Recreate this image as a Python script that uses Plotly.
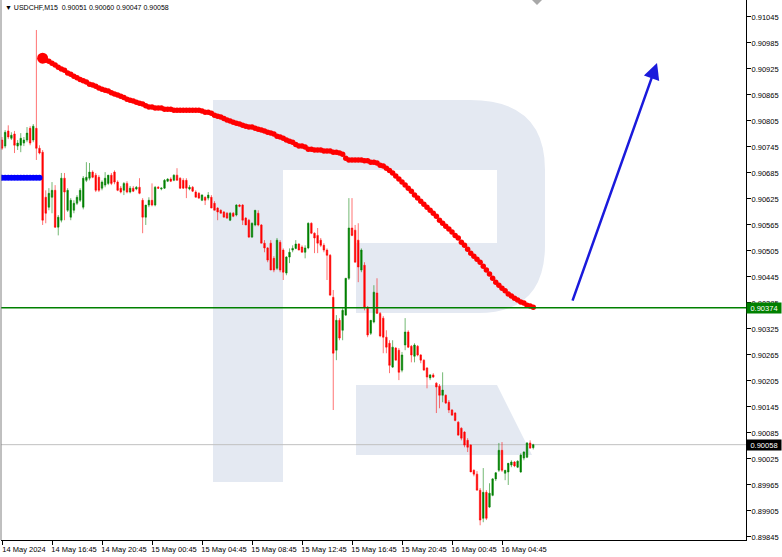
import plotly.graph_objects as go

# ---------------- data (prices in points, 1 point = 0.00001) ----------------
# USDCHF M15 bars, 14 May 12:45 .. 16 May 07:15 (bar index 0..170)
open_pts = [90761,90747,90782,90765,90775,90747,90749,90754,90761,90788,
            90761,90788,90742,90733,90629,90606,90629,90645,90560,90576,
            90673,90599,90583,90599,90615,90622,90606,90668,90673,90687,
            90680,90675,90650,90657,90661,90680,90687,90664,90650,90645,
            90661,90641,90650,90648,90652,90622,90583,90611,90622,90611,
            90652,90648,90650,90666,90671,90668,90680,90673,90668,90668,
            90648,90652,90641,90638,90622,90629,90627,90629,90615,90604,
            90599,90595,90592,90576,90592,90588,90611,90611,90581,90576,
            90537,90565,90592,90565,90523,90512,90523,90488,90465,90525,
            90507,90454,90491,90507,90511,90521,90514,90502,90512,90569,
            90546,90541,90530,90518,90507,90495,90398,90276,90345,90322,
            90357,90442,90558,90553,90530,90461,90472,90375,90315,90341,
            90408,90361,90350,90306,90292,90237,90281,90276,90230,90288,
            90318,90285,90262,90285,90265,90253,90235,90212,90219,90200,
            90193,90172,90172,90156,90138,90131,90110,90096,90087,90068,
            90057,89999,89990,89953,89888,89948,89914,89941,89979,89999,
            90045,89992,89995,90011,90018,90006,89995,90027,90029,90062,
            90051]
high_pts = [90768,90784,90795,90779,90782,90761,90777,90768,90791,90793,
            90798,91015,90749,90738,90645,90650,90664,90657,90588,90685,
            90685,90650,90627,90622,90634,90650,90678,90710,90708,90691,
            90685,90680,90668,90687,90678,90685,90691,90668,90655,90664,
            90666,90655,90655,90655,90673,90627,90611,90629,90661,90655,
            90655,90652,90671,90673,90675,90682,90696,90675,90673,90673,
            90657,90655,90645,90641,90636,90631,90641,90634,90620,90606,
            90601,90597,90595,90595,90595,90613,90613,90613,90583,90579,
            90571,90599,90599,90567,90530,90514,90530,90493,90535,90530,
            90511,90493,90511,90518,90530,90523,90518,90518,90571,90571,
            90548,90558,90535,90523,90511,90498,90415,90357,90350,90373,
            90442,90627,90627,90565,90569,90511,90479,90378,90345,90426,
            90442,90364,90355,90322,90299,90299,90283,90281,90272,90350,
            90322,90288,90292,90288,90267,90255,90237,90221,90223,90202,
            90198,90225,90174,90161,90140,90133,90112,90098,90089,90073,
            90059,90001,89997,89958,90004,89953,89969,89981,89995,90062,
            90064,89999,90011,90022,90020,90022,90038,90043,90064,90068,
            90060]
low_pts = [90738,90742,90763,90761,90731,90738,90733,90747,90756,90749,
           90756,90715,90728,90565,90569,90599,90592,90558,90541,90571,
           90576,90595,90576,90592,90611,90618,90601,90664,90668,90673,
           90641,90641,90645,90652,90657,90657,90659,90643,90638,90634,
           90638,90638,90641,90645,90636,90546,90565,90606,90608,90608,
           90648,90645,90648,90664,90664,90666,90668,90648,90648,90627,
           90645,90641,90629,90625,90620,90611,90622,90604,90599,90576,
           90592,90583,90579,90574,90583,90585,90606,90565,90565,90535,
           90535,90562,90562,90523,90502,90479,90461,90456,90461,90456,
           90438,90449,90477,90502,90509,90507,90502,90488,90509,90544,
           90500,90500,90514,90502,90438,90403,90138,90253,90299,90299,
           90355,90438,90539,90479,90433,90456,90368,90306,90311,90338,
           90361,90306,90269,90269,90223,90235,90253,90207,90225,90276,
           90281,90248,90248,90262,90246,90230,90188,90207,90212,90131,
           90142,90156,90152,90131,90126,90112,90080,90068,90052,90041,
           89995,89985,89953,89872,89879,89884,89912,89939,89974,89995,
           89995,89976,89965,90006,90006,90004,89993,90022,90027,90050,
           90047]
close_pts = [90742,90779,90768,90772,90749,90754,90765,90761,90777,90754,
             90793,90742,90731,90576,90592,90638,90645,90560,90583,90673,
             90641,90645,90622,90615,90629,90645,90673,90675,90687,90675,
             90645,90645,90664,90673,90680,90661,90664,90645,90641,90661,
             90641,90650,90643,90652,90638,90583,90611,90622,90611,90652,
             90650,90650,90668,90671,90666,90680,90668,90650,90650,90650,
             90652,90643,90629,90627,90634,90622,90634,90604,90599,90595,
             90592,90583,90581,90592,90585,90611,90608,90576,90565,90537,
             90569,90599,90565,90523,90512,90484,90461,90461,90530,90461,
             90456,90491,90502,90511,90521,90507,90502,90512,90569,90546,
             90535,90523,90518,90507,90495,90403,90269,90345,90304,90368,
             90442,90558,90541,90479,90468,90507,90375,90311,90345,90410,
             90361,90309,90306,90283,90241,90283,90253,90225,90265,90318,
             90283,90265,90288,90265,90253,90230,90214,90219,90214,90191,
             90172,90184,90154,90138,90126,90114,90080,90073,90057,90052,
             89995,89990,89953,89884,89948,89888,89946,89979,89993,90045,
             89999,89999,90015,90018,90009,90020,90034,90041,90062,90050,
             90058]

# red dotted moving average, bars 13..170
ma_start = 13
ma_pts = [90950,90945,90943,90938,90934,90929,90925,90922,90916,90913,
          90908,90905,90901,90898,90895,90890,90888,90885,90881,90878,
          90876,90874,90870,90867,90865,90862,90859,90855,90853,90851,
          90848,90846,90844,90840,90837,90837,90835,90835,90835,90832,
          90832,90832,90830,90830,90830,90830,90830,90830,90830,90830,
          90830,90828,90825,90825,90823,90818,90816,90814,90811,90807,
          90805,90802,90800,90798,90795,90793,90791,90791,90788,90786,
          90784,90782,90779,90777,90775,90770,90768,90765,90761,90758,
          90756,90751,90747,90747,90745,90740,90740,90738,90738,90738,
          90736,90736,90736,90733,90733,90731,90728,90719,90715,90715,
          90715,90715,90715,90713,90713,90710,90710,90708,90703,90701,
          90696,90691,90685,90678,90671,90664,90657,90650,90643,90634,
          90627,90620,90613,90606,90599,90592,90585,90576,90569,90562,
          90556,90549,90541,90535,90525,90518,90509,90500,90493,90486,
          90479,90470,90461,90452,90442,90433,90426,90419,90413,90406,
          90401,90396,90392,90387,90385,90380,90378,90375]

# blue dotted level on the first bars
blue_level_pts = 90674
blue_bars = 13

support_level = 0.90374   # green horizontal line
bid_level = 0.90058       # current price line

x_tick_bars = [0, 16, 32, 48, 64, 80, 96, 112, 128, 144, 160]
x_tick_labels = ["14 May 2024", "14 May 16:45", "14 May 20:45", "15 May 00:45",
                 "15 May 04:45", "15 May 08:45", "15 May 12:45", "15 May 16:45",
                 "15 May 20:45", "16 May 00:45", "16 May 04:45"]
y_tick_vals = [0.89845, 0.89905, 0.89965, 0.90025, 0.90085, 0.90145, 0.90205,
               0.90265, 0.90325, 0.90385, 0.90445, 0.90505, 0.90565, 0.90625,
               0.90685, 0.90745, 0.90805, 0.90865, 0.90925, 0.90985, 0.91045]

title_text = "\u25bc USDCHF,M15  0.90051 0.90060 0.90047 0.90058"

# forecast arrow (bar index, price)
arrow_from = (182.4, 0.90387)
arrow_to = (209.6, 0.90939)

# ---------------- build ----------------
SC = 1e-5
opens = [v * SC for v in open_pts]
highs = [v * SC for v in high_pts]
lows = [v * SC for v in low_pts]
closes = [v * SC for v in close_pts]
bars = list(range(len(open_pts)))
ma = [v * SC for v in ma_pts]
ma_x = [ma_start + k for k in range(len(ma_pts))]

FONT = "Liberation Sans"
FS = 7.5
W, H = 782, 557
ML, MR, MT, MB = 1, 36, 0, 17

fig = go.Figure()

fig.add_trace(go.Candlestick(
    x=bars, open=opens, high=highs, low=lows, close=closes,
    increasing=dict(line=dict(color="rgba(0,128,0,0.55)", width=1), fillcolor="#008000"),
    decreasing=dict(line=dict(color="rgba(255,0,0,0.55)", width=1), fillcolor="#ff0000"),
    whiskerwidth=0, showlegend=False, hoverinfo="skip"))

fig.add_trace(go.Scatter(
    x=list(range(blue_bars)), y=[blue_level_pts * SC] * blue_bars, mode="markers",
    marker=dict(color="#0000ff", size=6, line=dict(width=0)),
    showlegend=False, hoverinfo="skip"))

fig.add_trace(go.Scatter(
    x=ma_x, y=ma, mode="markers",
    marker=dict(color="#ff0000", size=5.5, line=dict(width=0)),
    showlegend=False, hoverinfo="skip"))
fig.add_trace(go.Scatter(
    x=ma_x[:1], y=ma[:1], mode="markers",
    marker=dict(color="#ff0000", size=11, line=dict(width=0)),
    showlegend=False, hoverinfo="skip"))

# pixel helpers for decorative watermark
def px(x):
    return (x - ML) / (W - ML - MR)

def py(y):
    return (H - MB - y) / (H - MT - MB)

def P(x, y):
    return f"{px(x):.5f},{py(y):.5f}"

WM = "#e4e9f2"
shapes = []
bowl = (f"M {P(213,100)} L {P(470,100)} Q {P(545,100)} {P(545,170)} "
        f"L {P(545,245)} Q {P(545,313)} {P(478,313)} L {P(356,313)} L {P(356,243)} "
        f"L {P(497,243)} L {P(497,170)} L {P(283,170)} L {P(283,482)} L {P(213,482)} Z")
shapes.append(dict(type="path", path=bowl, xref="paper", yref="paper",
                   fillcolor=WM, line=dict(width=0), layer="below"))
leg = f"M {P(356,385)} L {P(497,385)} L {P(532,455)} L {P(356,455)} Z"
shapes.append(dict(type="path", path=leg, xref="paper", yref="paper",
                   fillcolor=WM, line=dict(width=0), layer="below"))

shapes.append(dict(type="line", xref="paper", x0=0, x1=1, yref="y",
                   y0=support_level, y1=support_level,
                   line=dict(color="#008000", width=1.5)))
shapes.append(dict(type="line", xref="paper", x0=0, x1=1, yref="y",
                   y0=bid_level, y1=bid_level,
                   line=dict(color="#c0c0c0", width=1), layer="below"))
shapes.append(dict(type="line", xref="paper", x0=0, x1=0, yref="paper", y0=0, y1=1,
                   line=dict(color="#808080", width=1)))
tri = f"M {P(532,0)} L {P(542,0)} L {P(537,5)} Z"
shapes.append(dict(type="path", path=tri, xref="paper", yref="paper",
                   fillcolor="#a8a8a8", line=dict(width=0)))

annotations = [
    dict(xref="paper", yref="paper", x=px(3), y=py(2), xanchor="left", yanchor="top",
         text=title_text, showarrow=False, font=dict(family=FONT, size=7, color="#000000")),
    dict(xref="paper", yref="y", x=1, y=support_level, xanchor="left", yanchor="middle",
         text=f"{support_level:.5f}", showarrow=False, bgcolor="#008000",
         font=dict(family=FONT, size=FS, color="#ffffff"), width=34, height=10, borderpad=0,
         align="center"),
    dict(xref="paper", yref="y", x=1, y=bid_level, xanchor="left", yanchor="middle",
         text=f"{bid_level:.5f}", showarrow=False, bgcolor="#000000",
         font=dict(family=FONT, size=FS, color="#ffffff"), width=34, height=10, borderpad=0,
         align="center"),
    dict(x=arrow_to[0], y=arrow_to[1], ax=arrow_from[0], ay=arrow_from[1],
         xref="x", yref="y", axref="x", ayref="y", showarrow=True, text="",
         arrowhead=2, arrowsize=1.3, arrowwidth=2.5, arrowcolor="#1a1adc"),
]

fig.update_layout(
    width=W, height=H, margin=dict(l=ML, r=MR, t=MT, b=MB, autoexpand=False),
    paper_bgcolor="#ffffff", plot_bgcolor="#ffffff",
    font=dict(family=FONT, size=FS, color="#000000"),
    shapes=shapes, annotations=annotations, showlegend=False,
    xaxis=dict(range=[-0.32, 238.08], rangeslider=dict(visible=False), automargin=False,
               showgrid=False, zeroline=False, showline=True, linecolor="#000000",
               linewidth=1, ticks="outside", ticklen=4, tickcolor="#000000",
               tickvals=x_tick_bars, ticktext=x_tick_labels, ticklabelshift=22,
               tickangle=0, ticklabelstandoff=-2,
               tickfont=dict(family=FONT, size=FS, color="#000000")),
    yaxis=dict(range=[0.898380, 0.910842], side="right", showgrid=False, zeroline=False,
               automargin=False,
               showline=True, linecolor="#000000", linewidth=1, ticks="outside",
               ticklen=4, tickcolor="#000000", tickvals=y_tick_vals,
               ticktext=[f"{v:.5f}" for v in y_tick_vals], ticklabelstandoff=-1,
               tickfont=dict(family=FONT, size=FS, color="#000000")),
)

fig.write_html(
    "out.html",
    config={"displayModeBar": False},
    post_script="document.body.style.margin='0';document.body.style.overflow='hidden';",
)
